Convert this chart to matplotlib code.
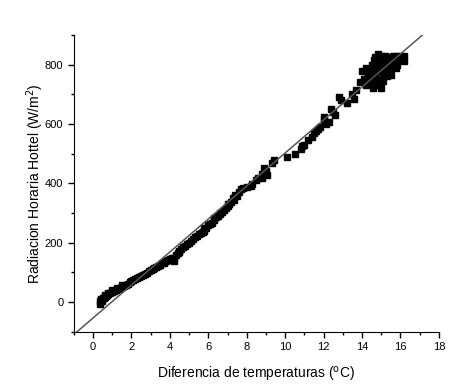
import matplotlib.pyplot as plt
import numpy as np
from matplotlib.ticker import MultipleLocator

plt.rcParams['font.family'] = ['Liberation Sans', 'DejaVu Sans']

# measured points (temperature difference, hourly radiation)
x_data = [0.35, 0.38, 0.42, 0.45, 0.5, 0.55, 0.6, 0.65, 0.7, 0.75, 0.8, 0.9, 1.0, 1.1,
          1.2, 1.3, 1.4, 1.5, 1.6, 1.7, 1.8, 1.9, 2.0, 2.1, 2.2, 2.3, 2.4, 2.5, 2.6, 2.7,
          2.8, 2.9, 3.0, 3.1, 3.2, 3.3, 3.4, 3.5, 3.6, 3.7, 3.8, 3.9, 4.0, 4.1, 4.2, 4.3,
          4.4, 4.5, 4.6, 4.7, 4.8, 4.9, 5.0, 5.1, 5.2, 5.3, 5.4, 5.5, 5.6, 5.7, 5.8, 5.9,
          6.0, 6.1, 6.2, 6.3, 6.4, 6.5, 6.6, 6.7, 6.8, 6.9, 7.0, 7.1, 7.2, 7.3, 7.4, 7.5,
          7.6, 7.7, 7.8, 8.0, 8.2, 8.3, 8.5, 8.6, 8.8, 8.9, 9.0, 9.05, 9.3, 9.4, 10.1, 10.5,
          10.8, 10.9, 11.0, 11.2, 11.4, 11.5, 11.6, 11.7, 11.8, 12.0, 12.1, 12.3, 12.4, 12.5,
          12.6, 12.8, 12.9, 13.2, 13.5, 13.6, 13.7, 13.9, 14.0, 14.1, 14.2, 14.3, 14.3, 14.35,
          14.4, 14.5, 14.5, 14.55, 14.6, 14.6, 14.7, 14.7, 14.7, 14.8, 14.8, 14.85, 14.9, 14.9,
          14.9, 15.0, 15.0, 15.0, 15.1, 15.1, 15.1, 15.2, 15.2, 15.3, 15.3, 15.4, 15.4, 15.5,
          15.5, 15.6, 15.6, 15.7, 15.8, 15.8, 15.9, 16.0, 16.0, 16.1, 16.2, 16.2,
          0.4, 0.6, 0.8, 1.0, 1.25, 1.5, 3.7, 4.2, 4.5, 5.8, 6.3, 6.6, 7.0, 7.35, 8.8, 12.0,
          14.2, 14.45, 14.65, 14.75, 15.05, 15.25, 15.35, 15.45, 15.65, 15.75]
y_data = [-5, 2, 8, 3, 12, 15, 18, 20, 22, 25, 26, 30, 34, 38,
          42, 45, 48, 52, 55, 58, 62, 66, 70, 73, 77, 80, 84, 88, 91, 95,
          99, 103, 108, 112, 116, 119, 122, 126, 130, 134, 138, 141, 145, 150, 148, 158,
          165, 172, 178, 185, 190, 196, 200, 207, 212, 218, 222, 228, 232, 236, 238, 250,
          258, 262, 268, 278, 285, 290, 298, 305, 310, 318, 325, 330, 338, 350, 362, 358,
          372, 380, 385, 388, 392, 398, 410, 418, 430, 450, 440, 428, 470, 478, 490, 500,
          515, 525, 530, 545, 555, 568, 575, 582, 590, 625, 600, 608, 650, 640,
          630, 690, 680, 672, 700, 685, 715, 740, 780, 750, 730, 760, 770, 740,
          785, 800, 770, 720, 815, 740, 825, 790, 760, 730, 810, 835, 825, 780,
          750, 830, 800, 720, 820, 770, 745, 830, 795, 810, 760, 825, 780, 815,
          765, 828, 795, 820, 830, 800, 825, 815, 830, 820, 828, 812,
          10, 24, 32, 40, 48, 57, 130, 140, 168, 248, 282, 300, 332, 345, 418, 612,
          790, 760, 775, 805, 790, 770, 795, 800, 810, 790]

# linear fit line end points
fit_x = [-0.83, 17.17]
fit_y = [-100, 901]

fig = plt.figure(figsize=(4.76, 3.88), dpi=100)
ax = fig.add_axes([0.155, 0.145, 0.767, 0.765])

ax.plot(x_data, y_data, marker='s', color='black', markersize=4.5, linestyle='None')
ax.plot(fit_x, fit_y, color='#555555', linewidth=1.1)

ax.set_xlim(-1, 18)
ax.set_ylim(-100, 900)
ax.xaxis.set_major_locator(MultipleLocator(2))
ax.xaxis.set_minor_locator(MultipleLocator(1))
ax.yaxis.set_major_locator(MultipleLocator(200))
ax.yaxis.set_minor_locator(MultipleLocator(100))
ax.set_xticks(np.arange(0, 19, 2))

ax.spines['top'].set_visible(False)
ax.spines['right'].set_visible(False)
ax.tick_params(which='both', direction='out', labelsize=8, width=1)
ax.tick_params(which='major', length=4)
ax.tick_params(which='minor', length=2.5)

ax.set_xlabel('Diferencia de temperaturas ($^{\\rm o}$C)', fontsize=10, labelpad=9)
ax.set_ylabel('Radiacion Horaria Hottel (W/m$^{2}$)', fontsize=10, labelpad=-1)

fig.savefig('out.png', dpi=100)
